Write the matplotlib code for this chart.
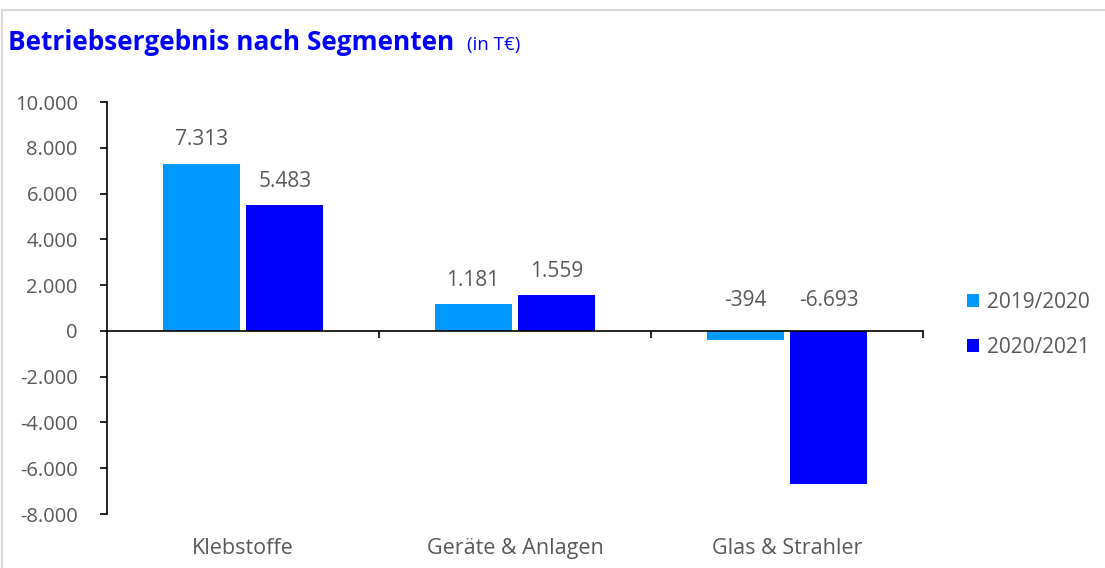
import numpy as np
import matplotlib.pyplot as plt
from matplotlib.ticker import FuncFormatter
from matplotlib.patches import Rectangle

categories = ["Klebstoffe", "Geräte & Anlagen", "Glas & Strahler"]
series_names = ["2019/2020", "2020/2021"]
v_2019 = [7313, 1181, -394]
v_2020 = [5483, 1559, -6693]

colors = ["#0099FF", "#0000FF"]
grey = "#595959"

plt.rcParams['font.family'] = ['Open Sans', 'DejaVu Sans']

fig = plt.figure(figsize=(11.05, 5.68), dpi=100)

# light grey chart frame
fig.patches.append(Rectangle((1.5 / 1105, -0.1), 1.2, 1.1 - 10.5 / 568,
                             transform=fig.transFigure, fill=False,
                             edgecolor="#D9D9D9", linewidth=1.5))

ax = fig.add_axes([107 / 1105, 1 - 514 / 568, (923 - 107) / 1105, (514 - 102) / 568])

x = np.arange(len(categories))
w = 0.283
off = 0.154
for i, vals in enumerate([v_2019, v_2020]):
    pos = x + (-off if i == 0 else off)
    ax.bar(pos, vals, width=w, color=colors[i], label=series_names[i])
    for px, v in zip(pos, vals):
        dy = 17 if v > 0 else 22
        ax.annotate(f"{v:,}".replace(",", "."), (px, max(v, 0)),
                    xytext=(0, dy), textcoords="offset points",
                    ha="center", va="center", fontsize=15, color=grey)

ax.set_xlim(-0.5, 2.5)
ax.set_ylim(-8000, 10000)
ax.set_yticks(np.arange(-8000, 10001, 2000))
ax.yaxis.set_major_formatter(FuncFormatter(lambda v, p: f"{int(v):,}".replace(",", ".")))

ax.spines["top"].set_visible(False)
ax.spines["right"].set_visible(False)
ax.spines["bottom"].set_position(("data", 0))
ax.spines["left"].set_linewidth(1.2)
ax.spines["bottom"].set_linewidth(1.2)

ax.set_xticks([0.5, 1.5, 2.5])
ax.set_xticklabels([])
ax.tick_params(axis="x", direction="out", length=5, width=1.2)
ax.tick_params(axis="y", direction="out", length=5, width=1.2,
               labelsize=14.5, labelcolor=grey, pad=16)

for xi, c in zip(x, categories):
    ax.text(xi, -0.083, c, transform=ax.get_xaxis_transform(),
            ha="center", va="center", fontsize=15.5, color=grey)

fig.text(8 / 1105, 1 - 50 / 568, "Betriebsergebnis nach Segmenten", color="#0000FF",
         fontsize=18.9, fontweight="bold", va="baseline", ha="left")
fig.text(467 / 1105, 1 - 50 / 568, "(in T€)", color="#0000FF",
         fontsize=13.5, va="baseline", ha="left")

ax.legend(loc="center left", bbox_to_anchor=(948 / 1105, 1 - 325 / 568),
          bbox_transform=fig.transFigure, frameon=False, fontsize=15,
          labelcolor=grey, handlelength=0.58, handleheight=0.58,
          handletextpad=0.38, labelspacing=1.15)

fig.savefig("out.png", dpi=100)
